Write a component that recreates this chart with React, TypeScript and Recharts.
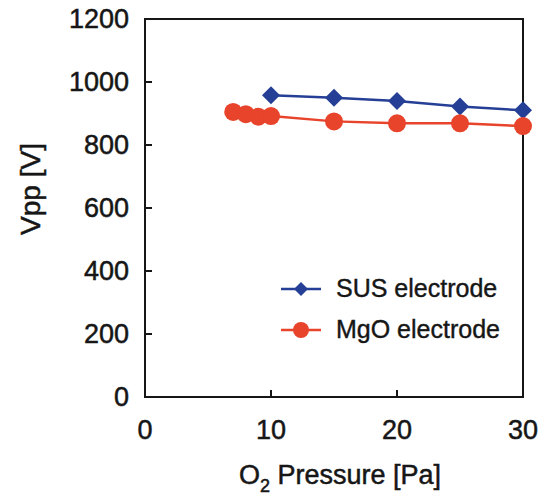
import React from 'react';
import {
  LineChart,
  Line,
  XAxis,
  YAxis,
  Legend,
  ReferenceArea,
  Label,
} from 'recharts';

// values
const susPressure = [10, 15, 20, 25, 30];
const susVpp = [958, 950, 940, 922, 910];

const mgoPressure = [7, 8, 9, 10, 15, 20, 25, 30];
const mgoVpp = [905, 898, 890, 892, 875, 869, 869, 860];

const xTicks = [0, 10, 20, 30];
const yTicks = [0, 200, 400, 600, 800, 1000, 1200];

const BLUE = '#243f95';
const RED = '#e8432b';
const INK = '#161616';
const FONT = '"Liberation Sans", Arial, sans-serif';

const susData = susPressure.map((x, i) => ({ x, vpp: susVpp[i] }));
const mgoData = mgoPressure.map((x, i) => ({ x, vpp: mgoVpp[i] }));

const Diamond = ({ cx, cy, r, fill }: any) => (
  <polygon
    points={`${cx},${cy - r} ${cx + r},${cy} ${cx},${cy + r} ${cx - r},${cy}`}
    fill={fill}
  />
);

// ticks point inward, labels sit outside the frame
const XTick = ({ x, y, payload }: any) => (
  <g>
    {payload.value !== 0 && payload.value !== 30 && (
      <line x1={x} x2={x} y1={y} y2={y - 7} stroke={INK} strokeWidth={2} />
    )}
    <text
      x={x}
      y={y + 33}
      dy="0.35em"
      textAnchor="middle"
      fontSize={27}
      fontFamily={FONT}
      fill={INK}
      stroke={INK}
      strokeWidth={0.5}
    >
      {payload.value}
    </text>
  </g>
);

const YTick = ({ x, y, payload }: any) => (
  <g>
    <line x1={x} x2={x + 7} y1={y} y2={y} stroke={INK} strokeWidth={2} />
    <text
      x={x - 16}
      y={y}
      dy="0.35em"
      textAnchor="end"
      fontSize={27}
      fontFamily={FONT}
      fill={INK}
      stroke={INK}
      strokeWidth={0.5}
    >
      {payload.value}
    </text>
  </g>
);

const renderLegend = ({ payload }: any) => {
  // SUS first, as in the figure
  const items = [...(payload || [])].sort((a: any, b: any) =>
    a.value.startsWith('SUS') ? -1 : b.value.startsWith('SUS') ? 1 : 0
  );
  return (
    <div style={{ fontFamily: FONT, fontSize: 25, color: INK, WebkitTextStroke: '0.4px ' + INK }}>
      {items.map((p: any) => (
        <div key={p.value} style={{ display: 'flex', alignItems: 'center', height: 41 }}>
          <svg width={40} height={20} style={{ marginRight: 15 }}>
            <line x1={0} x2={40} y1={10} y2={10} stroke={p.color} strokeWidth={2.5} />
            {p.value.startsWith('SUS') ? (
              <Diamond cx={20} cy={10} r={7} fill={p.color} />
            ) : (
              <circle cx={20} cy={10} r={8} fill={p.color} />
            )}
          </svg>
          <span>{p.value}</span>
        </div>
      ))}
    </div>
  );
};

export default function App() {
  return (
    <div style={{ position: 'absolute', left: 0, top: 0, background: '#fff' }}>
      <LineChart width={545} height={496} margin={{ top: 19, right: 22, left: 0, bottom: 0 }}>
        <XAxis
          type="number"
          dataKey="x"
          domain={[0, 30]}
          ticks={xTicks}
          tickSize={0}
          tickMargin={0}
          tickLine={false}
          tick={<XTick />}
          axisLine={{ stroke: INK, strokeWidth: 2 }}
          height={99}
        >
          <Label
            content={({ viewBox }: any) => (
              <text
                x={viewBox.x + viewBox.width / 2 + 6}
                y={viewBox.y + 78}
                dy="0.35em"
                textAnchor="middle"
                fontSize={27}
                fontFamily={FONT}
                fill={INK}
                stroke={INK}
                strokeWidth={0.5}
              >
                <tspan>O</tspan>
                <tspan dy={8} fontSize={18}>2</tspan>
                <tspan dy={-8}> Pressure [Pa]</tspan>
              </text>
            )}
          />
        </XAxis>
        <YAxis
          type="number"
          domain={[0, 1200]}
          ticks={yTicks}
          tickSize={0}
          tickMargin={0}
          tickLine={false}
          tick={<YTick />}
          axisLine={{ stroke: INK, strokeWidth: 2 }}
          width={145}
        >
          <Label
            content={() => (
              <text
                x={30}
                y={189}
                dy="0.35em"
                textAnchor="middle"
                transform="rotate(-90 30 189)"
                fontSize={28}
                fontFamily={FONT}
                fill={INK}
                stroke={INK}
                strokeWidth={0.5}
              >
                Vpp [V]
              </text>
            )}
          />
        </YAxis>
        <ReferenceArea x1={0} x2={30} y1={0} y2={1200} fill="none" stroke={INK} strokeWidth={2} />
        <Legend
          layout="vertical"
          align="center"
          verticalAlign="middle"
          content={renderLegend}
          wrapperStyle={{ left: 281, top: 268, width: 260 }}
        />
        <Line
          data={susData}
          dataKey="vpp"
          name="SUS electrode"
          stroke={BLUE}
          strokeWidth={2.5}
          dot={(props: any) => <Diamond key={props.index} cx={props.cx} cy={props.cy} r={9} fill={BLUE} />}
          isAnimationActive={false}
        />
        <Line
          data={mgoData}
          dataKey="vpp"
          name="MgO electrode"
          stroke={RED}
          strokeWidth={2.5}
          dot={{ r: 9, fill: RED, stroke: RED, strokeWidth: 0 }}
          isAnimationActive={false}
        />
      </LineChart>
    </div>
  );
}
